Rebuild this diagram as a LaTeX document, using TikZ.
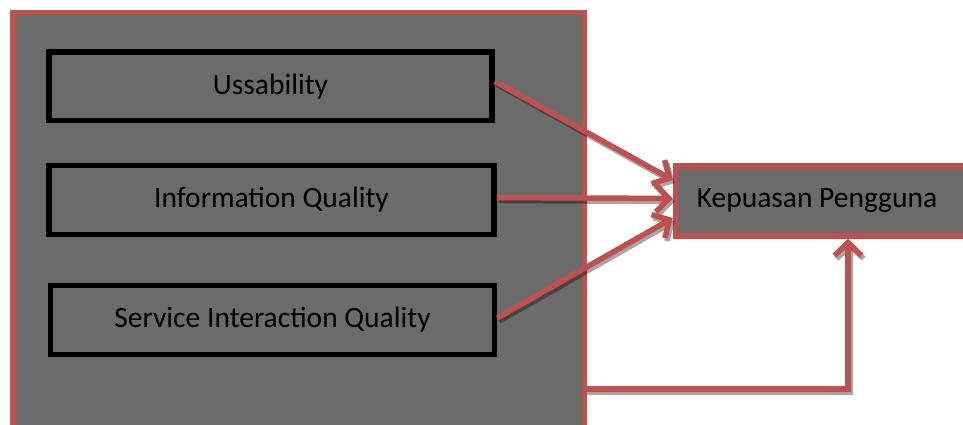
\documentclass[tikz,border=0pt]{standalone}
\usepackage{fontspec}
\setmainfont{Carlito}
\usetikzlibrary{arrows.meta}
\definecolor{boxred}{HTML}{C0504D}
\definecolor{boxgray}{HTML}{6B6B6B}
\newcommand\myconnectors[1]{%
  \draw[#1] ([yshift=5pt]uss.east) -- ([yshift=21pt]kep.west);
  \draw[#1] ([yshift=2.5pt]info.east) -- ([yshift=2.5pt]kep.west);
  \draw[#1] ([yshift=2pt]serv.east) -- ([yshift=-17pt]kep.west);
  \draw[#1] (fb) -| ([xshift=22.75pt]kep.south);
}
\begin{document}
\begin{tikzpicture}[x=1pt,y=-1pt,
  lbl/.style={font=\fontsize{29.5}{35}\selectfont, text=black},
  inbox/.style={draw=black, line width=5.5pt, fill=boxgray, inner sep=0pt, lbl},
  redbox/.style={draw=boxred, line width=5.5pt, fill=boxgray, inner sep=0pt},
  conn/.style={draw=boxred, line width=5.5pt, -{Straight Barb[length=13pt,width=27pt]}},
  connshadow/.style={draw=black, draw opacity=0.35, line width=5.5pt, -{Straight Barb[length=13pt,width=27pt]}}
]
\useasboundingbox (0,0) rectangle (963,425);
\node[redbox, minimum width=571.5pt, minimum height=427.5pt] (big) at (298.75,226.25) {};
\node[inbox, minimum width=443pt, minimum height=68.5pt] (uss) at (270.5,86.25) {Ussability};
\node[inbox, minimum width=445pt, minimum height=69pt] (info) at (271.5,200) {Information Quality};
\node[inbox, minimum width=444pt, minimum height=69pt] (serv) at (272.5,320) {Service Interaction Quality};
\node[redbox, minimum width=299.5pt, minimum height=70pt] (kep) at (825.25,201) {};
\node[lbl] (keptext) at (817,201) {Kepuasan Pengguna};
\coordinate (fb) at (584.5,389);
\begin{scope}[transform canvas={xshift=2pt,yshift=-3pt}]
  \myconnectors{connshadow}
\end{scope}
\myconnectors{conn}
\end{tikzpicture}
\end{document}
